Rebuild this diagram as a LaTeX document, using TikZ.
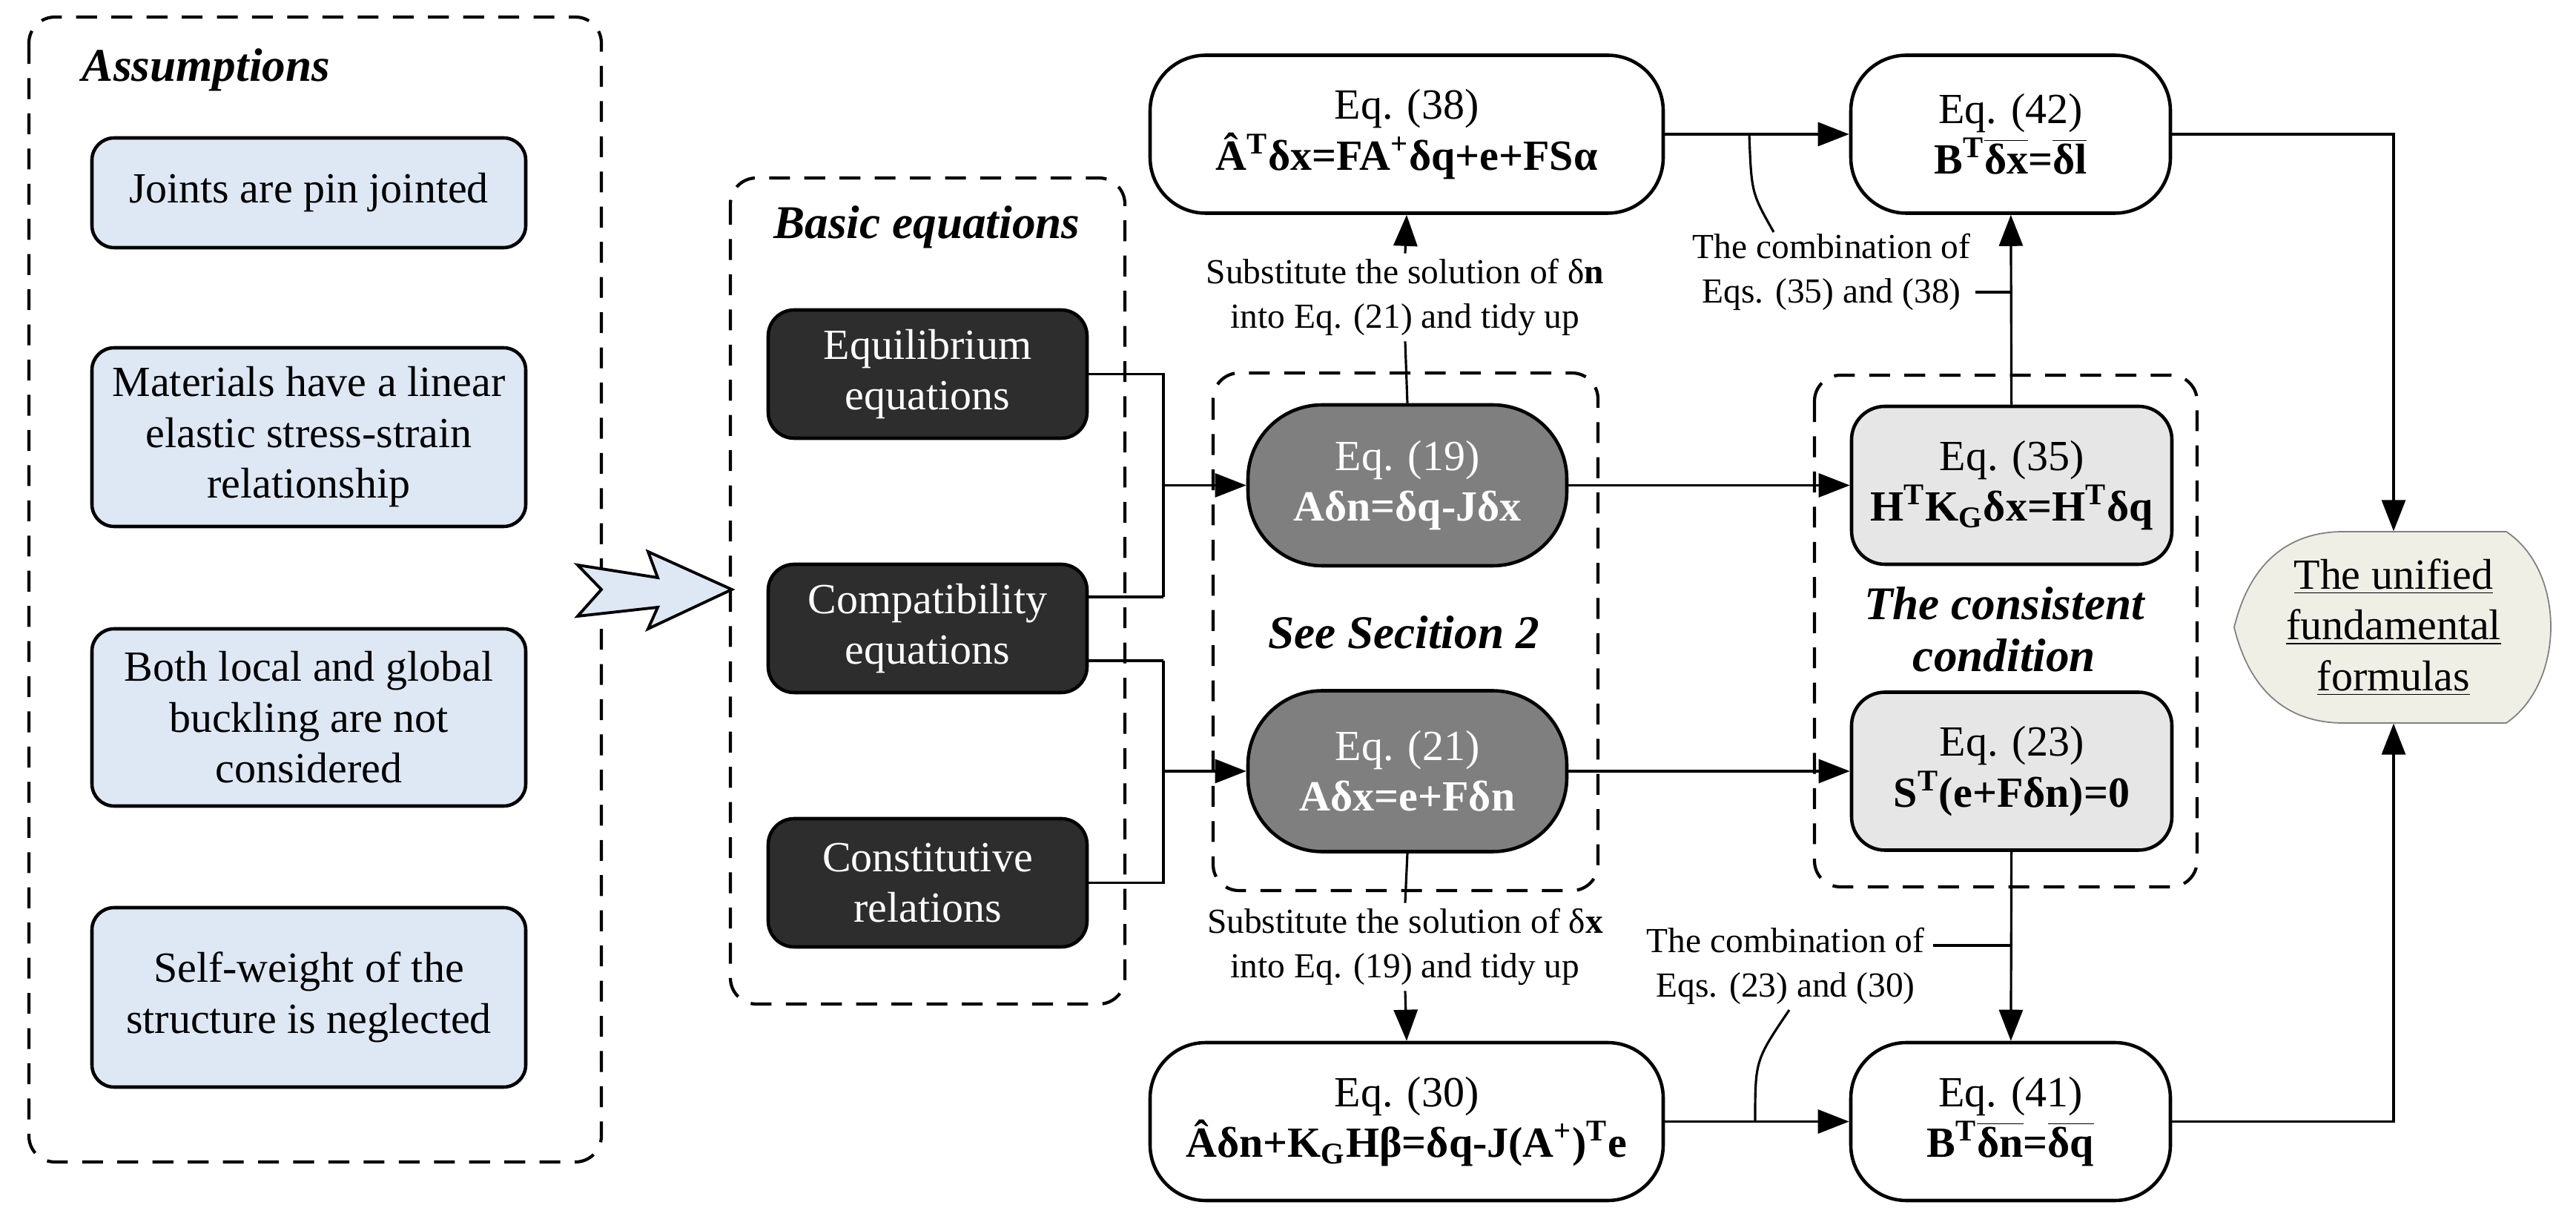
\documentclass[tikz,border=0pt]{standalone}
\usepackage{fontspec}
\setmainfont{Liberation Serif}
\usetikzlibrary{arrows.meta}
\definecolor{blu}{HTML}{DEE8F4}
\definecolor{drk}{HTML}{2D2D2D}
\definecolor{gry}{HTML}{7F7F7F}
\definecolor{lgr}{HTML}{E6E6E6}
\definecolor{uni}{HTML}{EFEFE6}
\begin{document}
\begin{tikzpicture}[
  txt/.style={font=\fontsize{16.5}{19.5}\selectfont, align=center},
  lab/.style={font=\fontsize{13.5}{17}\selectfont, align=center, inner sep=2pt},
  ttl/.style={font=\fontsize{18}{20}\selectfont\bfseries\itshape, align=center},
  bluebox/.style={txt, draw, line width=1.3pt, fill=blu, rounded corners=0.3cm, minimum width=5.85cm},
  darkbox/.style={txt, draw, line width=1.3pt, fill=drk, text=white, rounded corners=0.35cm, minimum width=4.3cm, minimum height=1.73cm},
  ovbox/.style={txt, draw, line width=1.3pt, fill=gry, text=white, rounded corners=1.0cm, minimum width=4.3cm, minimum height=2.17cm},
  lgbox/.style={txt, draw, line width=1.3pt, fill=lgr, rounded corners=0.45cm, minimum width=4.32cm, minimum height=2.13cm},
  wbox/.style={txt, draw, line width=1.3pt, fill=white, rounded corners=0.75cm, minimum height=2.13cm},
  dbox/.style={line width=1.2pt, dash pattern=on 8pt off 5.5pt, rounded corners=0.35cm},
  con/.style={line width=0.9pt},
  arr/.style={con, -{Triangle[length=0.42cm, width=0.32cm]}}
]
\useasboundingbox (0,0) rectangle (34.74,-16.52);

% dashed containers
\draw[dbox] (0.39,-0.23) rectangle (8.11,-15.67);
\draw[dbox] (9.85,-2.40) rectangle (15.17,-13.54);
\draw[dbox] (16.36,-5.03) rectangle (21.55,-12.01);
\draw[dbox] (24.47,-5.06) rectangle (29.63,-11.96);

% titles
\node[ttl] (tA) at (2.78,-0.94) {Assumptions};
\node[ttl] (tB) at (12.5,-3.06) {Basic equations};
\node[ttl] (tS) at (18.93,-8.53) {See Secition 2};
\node[ttl] (tC) at (27.03,-8.49) {The consistent\\condition};

% assumptions
\node[bluebox, minimum height=1.48cm] (b1) at (4.165,-2.60) {Joints are pin jointed};
\node[bluebox, minimum height=2.41cm] (b2) at (4.165,-5.895) {Materials have a linear\\elastic stress-strain\\relationship};
\node[bluebox, minimum height=2.39cm] (b3) at (4.165,-9.675) {Both local and global\\buckling are not\\considered};
\node[bluebox, minimum height=2.42cm] (b4) at (4.165,-13.45) {Self-weight of the\\structure is neglected};

% big arrow
\draw[line width=1.1pt, fill=blu, line join=miter]
  (7.79,-7.62) -- (8.87,-7.79) -- (8.74,-7.44) -- (9.87,-7.95) -- (8.74,-8.48) -- (8.87,-8.19) -- (7.79,-8.31) -- (8.11,-7.95) -- cycle;

% basic equations
\node[darkbox] (equil) at (12.51,-5.045) {Equilibrium\\equations};
\node[darkbox] (compat) at (12.51,-8.475) {Compatibility\\equations};
\node[darkbox] (const) at (12.51,-11.905) {Constitutive\\relations};

% section 2
\node[ovbox] (eq19) at (18.98,-6.545) {Eq. (19)\\\textbf{Aδn=δq-Jδx}};
\node[ovbox] (eq21) at (18.98,-10.40) {Eq. (21)\\\textbf{Aδx=e+Fδn}};

% consistent condition
\node[lgbox] (eq35) at (27.13,-6.545) {Eq. (35)\\\textbf{H\textsuperscript{T}K\textsubscript{G}δx=H\textsuperscript{T}δq}};
\node[lgbox] (eq23) at (27.13,-10.40) {Eq. (23)\\\textbf{S\textsuperscript{T}(e+Fδn)=0}};

% outcome boxes
\node[wbox, minimum width=6.92cm] (eq38) at (18.97,-1.81) {Eq. (38)\\\textbf{\^{A}\textsuperscript{T}δx=FA\textsuperscript{+}δq+e+FSα}};
\node[wbox, minimum width=4.31cm] (eq42) at (27.115,-1.81) {Eq. (42)\\\textbf{B\textsuperscript{T}$\overline{\hbox{δx}}$=$\overline{\hbox{δl}}$}};
\node[wbox, minimum width=6.92cm] (eq30) at (18.97,-15.125) {Eq. (30)\\\textbf{\^{A}δn+K\textsubscript{G}Hβ=δq-J(A\textsuperscript{+})\textsuperscript{T}e}};
\node[wbox, minimum width=4.31cm] (eq41) at (27.115,-15.125) {Eq. (41)\\\textbf{B\textsuperscript{T}$\overline{\hbox{δn}}$=$\overline{\hbox{δq}}$}};

% unified
\draw[line width=0.5pt, draw=gray, fill=uni]
  (30.13,-8.46) .. controls (30.35,-7.55) and (30.9,-7.17) .. (31.6,-7.17) -- (33.8,-7.17)
  .. controls (34.6,-7.7) and (34.6,-9.2) .. (33.8,-9.75) -- (31.6,-9.75)
  .. controls (30.9,-9.75) and (30.35,-9.37) .. cycle;
\node[txt, minimum width=4.3cm, minimum height=2.58cm] (unif) at (32.28,-8.46)
  {\underline{The unified}\\\underline{fundamental}\\\underline{formulas}};

% connectors from basic equations
\coordinate (ja) at (15.69,-8.05);
\coordinate (jb) at (15.69,-8.91);
\draw[con] (equil.east) -| (ja);
\draw[con] (ja) -- (ja -| compat.east);
\draw[con] (const.east) -| (jb);
\draw[con] (jb) -- (jb -| compat.east);
\draw[arr] (ja |- eq19) -- (eq19);
\draw[arr] (jb |- eq21) -- (eq21);

% horizontal
\draw[arr] (eq19) -- (eq35);
\draw[arr] (eq21) -- (eq23);
\draw[arr] (eq38) -- (eq42);
\draw[arr] (eq30) -- (eq41);

% substitutions
\node[lab] (sub1) at (18.95,-4.01) {Substitute the solution of δ\textbf{n}\\into Eq. (21) and tidy up};
\draw[con] (eq19.north) -- (sub1.south);
\draw[arr] (sub1.north) -- (eq38.south);
\node[lab] (sub2) at (18.95,-12.77) {Substitute the solution of δ\textbf{x}\\into Eq. (19) and tidy up};
\draw[con] (eq21.south) -- (sub2.north);
\draw[arr] (sub2.south) -- (eq30.north);

% vertical on consistent side
\draw[arr] (eq35) -- (eq42);
\draw[arr] (eq23) -- (eq41);

% combination labels
\node[lab] (cmb1) at (24.70,-3.67) {The combination of\\Eqs. (35) and (38)};
\coordinate (t1) at (27.12,-3.94);
\draw[con] (t1) -- ++(-0.48,0);
\coordinate (c1) at (23.59,-1.81);
\draw[con] (c1) .. controls (23.62,-2.6) .. (23.92,-3.13);
\node[lab] (cmb2) at (24.08,-13.03) {The combination of\\Eqs. (23) and (30)};
\coordinate (t2) at (27.12,-12.75);
\draw[con] (t2) -- ++(-1.05,0);
\coordinate (c2) at (23.67,-15.125);
\draw[con] (c2) .. controls (23.67,-14.3) .. (24.13,-13.62);

% to unified
\draw[arr] (eq42.east) -| (unif.north);
\draw[arr] (eq41.east) -| (unif.south);
\end{tikzpicture}
\end{document}
